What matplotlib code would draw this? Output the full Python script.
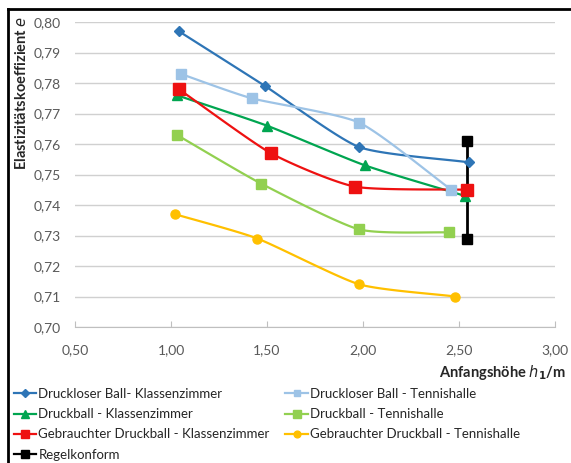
import numpy as np
import matplotlib
matplotlib.use("Agg")
import matplotlib.pyplot as plt
from matplotlib.lines import Line2D

plt.rcParams['font.family'] = ['Lato', 'DejaVu Sans']

# Anfangshöhe h1 in m and Elastizitätskoeffizient e per series
x_druckloser_kz = [1.04, 1.49, 1.98, 2.55]
e_druckloser_kz = [0.797, 0.779, 0.759, 0.754]

x_druckloser_th = [1.05, 1.42, 1.98, 2.46]
e_druckloser_th = [0.783, 0.775, 0.767, 0.745]

x_druckball_kz = [1.03, 1.50, 2.01, 2.53]
e_druckball_kz = [0.776, 0.766, 0.753, 0.743]

x_druckball_th = [1.03, 1.47, 1.98, 2.45]
e_druckball_th = [0.763, 0.747, 0.732, 0.731]

x_gebraucht_kz = [1.04, 1.52, 1.96, 2.54]
e_gebraucht_kz = [0.778, 0.757, 0.746, 0.745]

x_gebraucht_th = [1.02, 1.45, 1.98, 2.48]
e_gebraucht_th = [0.737, 0.729, 0.714, 0.710]

x_regel = [2.54, 2.54]
e_regel = [0.761, 0.729]

labels = [
    "Druckloser Ball- Klassenzimmer",
    "Druckloser Ball - Tennishalle",
    "Druckball - Klassenzimmer",
    "Druckball - Tennishalle",
    "Gebrauchter Druckball - Klassenzimmer",
    "Gebrauchter Druckball - Tennishalle",
    "Regelkonform",
]

x_ticks = [0.5, 1.0, 1.5, 2.0, 2.5, 3.0]
y_ticks = [0.70, 0.71, 0.72, 0.73, 0.74, 0.75, 0.76, 0.77, 0.78, 0.79, 0.80]


def smooth(xs, ys, n=30):
    """Catmull-Rom curve through the given points (for drawing only)."""
    p = np.column_stack([xs, ys]).astype(float)
    if len(p) < 3:
        return p[:, 0], p[:, 1]
    ext = np.vstack([2 * p[0] - p[1], p, 2 * p[-1] - p[-2]])
    out = []
    t = np.linspace(0, 1, n)[:, None]
    for i in range(1, len(ext) - 2):
        p0, p1, p2, p3 = ext[i - 1], ext[i], ext[i + 1], ext[i + 2]
        m1 = (p2 - p0) / 2 * 0.6
        m2 = (p3 - p1) / 2 * 0.6
        h00 = 2 * t**3 - 3 * t**2 + 1
        h10 = t**3 - 2 * t**2 + t
        h01 = -2 * t**3 + 3 * t**2
        h11 = t**3 - t**2
        out.append(h00 * p1 + h10 * m1 + h01 * p2 + h11 * m2)
    c = np.vstack(out)
    return c[:, 0], c[:, 1]


fig = plt.figure(figsize=(5.71, 4.63), dpi=100)
ax = fig.add_axes([75 / 571, 1 - 327 / 463, 480 / 571, 305 / 463])

series = [
    (x_druckloser_kz, e_druckloser_kz, "#2E75B6", "D", 5),
    (x_druckloser_th, e_druckloser_th, "#9DC3E6", "s", 6.5),
    (x_druckball_kz, e_druckball_kz, "#00A550", "^", 7),
    (x_druckball_th, e_druckball_th, "#92D050", "s", 7),
    (x_gebraucht_kz, e_gebraucht_kz, "#EE1111", "s", 8),
    (x_gebraucht_th, e_gebraucht_th, "#FFC000", "o", 6.5),
    (x_regel, e_regel, "#000000", "s", 7),
]

handles = []
for (xs, ys, col, mk, ms), lab in zip(series, labels):
    sx, sy = smooth(xs, ys)
    lw = 2.0 if col == "#000000" else 1.6
    ax.plot(sx, sy, color=col, lw=lw, zorder=3)
    ax.plot(xs, ys, ls="none", marker=mk, color=col, ms=ms, zorder=4)
    handles.append(Line2D([0], [0], color=col, lw=1.6, marker=mk,
                          ms=ms * 0.75))

ax.set_xlim(0.5, 3.0)
ax.set_ylim(0.70, 0.80)
ax.set_xticks(x_ticks)
ax.set_yticks(y_ticks)
ax.set_xticklabels([f"{v:.2f}".replace(".", ",") for v in x_ticks])
ax.set_yticklabels([f"{v:.2f}".replace(".", ",") for v in y_ticks])
ax.tick_params(axis="both", colors="#595959", labelsize=10, length=0)
ax.tick_params(axis="x", length=4, color="#BFBFBF", direction="in", pad=12)
ax.tick_params(axis="y", pad=10)
ax.grid(axis="y", color="#D0D0D0", lw=1)
for s in ["top", "right", "left"]:
    ax.spines[s].set_visible(False)
ax.spines["bottom"].set_color("#BFBFBF")

fig.text(22 / 571, 1 - 93 / 463, r"Elastizitätskoeffizient $\mathit{e}$",
         rotation=90, ha="center", va="center", fontsize=10.5,
         fontweight="bold", color="#262626")
fig.text(566 / 571, 1 - 373 / 463, r"Anfangshöhe $\mathit{h}_\mathbf{1}$/m",
         ha="right", va="center", fontsize=10.5, fontweight="bold",
         color="#262626")

# legend filled row by row: left column gets items 0,2,4,6, right 1,3,5
order = [0, 2, 4, 6, 1, 3, 5]
leg = fig.legend([handles[i] for i in order], [labels[i] for i in order],
                 loc="upper left",
                 bbox_to_anchor=(14 / 571, 1 - 388 / 463), ncol=2,
                 frameon=False, fontsize=9.5, handlelength=1.7,
                 handletextpad=0.15, labelspacing=0.62, columnspacing=1.2,
                 borderaxespad=0, borderpad=0)
for t in leg.get_texts():
    t.set_color("#262626")

# outer chart frame
fig.add_artist(Line2D([8 / 571, 8 / 571], [0, 1 - 9 / 463],
                      transform=fig.transFigure, color="black", lw=2))
fig.add_artist(Line2D([8 / 571, 1], [1 - 9 / 463, 1 - 9 / 463],
                      transform=fig.transFigure, color="black", lw=2))

fig.savefig("out.png", dpi=100)
